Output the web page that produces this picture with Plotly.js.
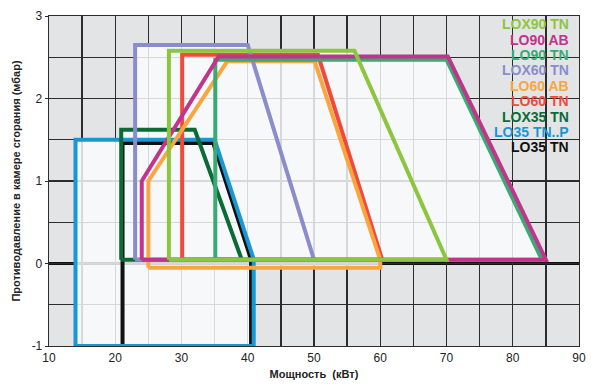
<!DOCTYPE html>
<html>
<head>
<meta charset="utf-8">
<script src="https://cdn.plot.ly/plotly-3.0.1.min.js"></script>
<style>
html,body{margin:0;padding:0;background:#fff;}
#chart{width:600px;height:392px;}
</style>
</head>
<body>
<div id="chart"></div>
<script>
// Series names (legend order, top to bottom) and colours
var seriesNames = ["LOX90 TN", "LO90 AB", "LO90 TN", "LOX60 TN", "LO60 AB", "LO60 TN", "LOX35 TN", "LO35 TN..P", "LO35 TN"];
var seriesColors = ["#8cc63e", "#c0348b", "#3aaa74", "#8a8dcc", "#faa640", "#f04a3c", "#0a6b37", "#1997d4", "#111111"];

// Outline polygons: power (kW) and backpressure (mbar)
var lox90tn_x = [28.1, 28.1, 56.1, 70.0, 28.1];
var lox90tn_y = [0.045, 2.58, 2.58, 0.045, 0.045];

var lo90ab_x = [24.0, 24.0, 35.6, 70.2, 85.0, 24.0];
var lo90ab_y = [0.045, 1.0, 2.51, 2.51, 0.045, 0.045];

var lo90tn_x = [35.1, 35.1, 70.0, 84.4, 35.1];
var lo90tn_y = [0.045, 2.47, 2.47, 0.045, 0.045];

var lox60tn_x = [23.0, 23.0, 40.0, 50.0, 23.0];
var lox60tn_y = [0.045, 2.65, 2.65, 0.045, 0.045];

var lo60ab_x = [25.0, 25.0, 36.9, 50.1, 60.0, 60.0, 25.0];
var lo60ab_y = [-0.05, 1.0, 2.45, 2.45, 0.045, -0.05, -0.05];

var lo60tn_x = [30.1, 30.1, 50.6, 60.3, 30.1];
var lo60tn_y = [0.045, 2.53, 2.53, 0.045, 0.045];

var lox35tn_x = [20.9, 20.9, 32.0, 39.1, 20.9];
var lox35tn_y = [0.045, 1.62, 1.62, 0.045, 0.045];

var lo35tnp_x = [14.0, 14.0, 35.0, 40.9, 40.9, 14.0];
var lo35tnp_y = [-1.0, 1.5, 1.5, 0.05, -1.0, -1.0];

var lo35tn_x = [21.1, 21.1, 34.8, 40.5, 40.5, 21.1];
var lo35tn_y = [-1.0, 1.46, 1.46, 0.05, -1.0, -1.0];

var seriesX = [lox90tn_x, lo90ab_x, lo90tn_x, lox60tn_x, lo60ab_x, lo60tn_x, lox35tn_x, lo35tnp_x, lo35tn_x];
var seriesY = [lox90tn_y, lo90ab_y, lo90tn_y, lox60tn_y, lo60ab_y, lo60tn_y, lox35tn_y, lo35tnp_y, lo35tn_y];

// Axis ticks
var xTicks = [10, 20, 30, 40, 50, 60, 70, 80, 90];
var yTicks = [-1, 0, 1, 2, 3];

// Build traces (draw in reverse so first legend item is on top)
var traces = [];
for (var i = seriesNames.length - 1; i >= 0; i--) {
  traces.push({
    type: 'scatter', mode: 'lines',
    x: seriesX[i], y: seriesY[i],
    name: seriesNames[i],
    line: {color: seriesColors[i], width: 4, shape: 'linear'},
    showlegend: false, hoverinfo: 'skip'
  });
}

// Union of operating areas as one path (same winding -> nonzero fill = union)
function polyPath(xs, ys) {
  var pts = [];
  for (var k = 0; k < xs.length; k++) pts.push([xs[k], ys[k]]);
  var area = 0;
  for (var k = 0; k < pts.length; k++) {
    var a = pts[k], b = pts[(k + 1) % pts.length];
    area += a[0] * b[1] - b[0] * a[1];
  }
  if (area < 0) pts.reverse();
  return 'M' + pts.map(function(p){ return p[0] + ',' + p[1]; }).join(' L') + ' Z';
}
var unionPath = seriesX.map(function(xs, i){ return polyPath(xs, seriesY[i]); }).join(' ');

var shapes = [
  {type: 'path', xref: 'x', yref: 'y', path: unionPath, layer: 'between',
   fillcolor: 'rgba(250,251,252,0.83)', fillrule: 'nonzero', line: {width: 0}},
  {type: 'line', xref: 'paper', yref: 'y', x0: 0, x1: 1, y0: 0, y1: 0, layer: 'between',
   line: {color: '#111', width: 3}}
];

// Legend as coloured text
var annotations = seriesNames.map(function(n, i){
  return {
    xref: 'paper', yref: 'paper', x: 0.984, y: 0.975 - i * 0.0466,
    xanchor: 'right', yanchor: 'middle', showarrow: false,
    text: '<b>' + n + '</b>',
    font: {family: 'Liberation Sans, Arial, sans-serif', size: 14, color: seriesColors[i]}
  };
});

var layout = {
  width: 600, height: 392,
  margin: {l: 49, r: 21, t: 16, b: 46},
  paper_bgcolor: '#ffffff',
  plot_bgcolor: '#e2e4e6',
  font: {family: 'Liberation Sans, Arial, sans-serif', size: 12, color: '#222'},
  xaxis: {
    range: [10, 90], tickmode: 'array', tickvals: xTicks, ticktext: xTicks.map(String),
    showgrid: true, gridcolor: '#2c2c2c', gridwidth: 1.3,
    minor: {dtick: 5, tick0: 10, showgrid: true, gridcolor: '#2c2c2c', gridwidth: 1.3},
    zeroline: false, showline: true, linecolor: '#2c2c2c', linewidth: 1.3, mirror: true,
    ticks: '', tickfont: {size: 12, color: '#222'},
    title: {text: '<b>Мощность  (кВт)</b>', font: {size: 11, color: '#222'}, standoff: 6}
  },
  yaxis: {
    range: [-1, 3], tickmode: 'array', tickvals: yTicks, ticktext: yTicks.map(String),
    showgrid: true, gridcolor: '#2c2c2c', gridwidth: 1.3,
    minor: {dtick: 0.5, tick0: 0, showgrid: true, gridcolor: '#2c2c2c', gridwidth: 1.3},
    zeroline: false, showline: true, linecolor: '#2c2c2c', linewidth: 1.3, mirror: true,
    ticks: 'outside', ticklen: 3, tickcolor: '#2c2c2c', tickfont: {size: 12, color: '#222'},
    title: {text: '<b>Противодавление в камере сгорания (мбар)</b>', font: {size: 11, color: '#222'}, standoff: 8}
  },
  shapes: shapes,
  annotations: annotations,
  showlegend: false
};

Plotly.newPlot('chart', traces, layout, {displayModeBar: false, staticPlot: true});
</script>
</body>
</html>
